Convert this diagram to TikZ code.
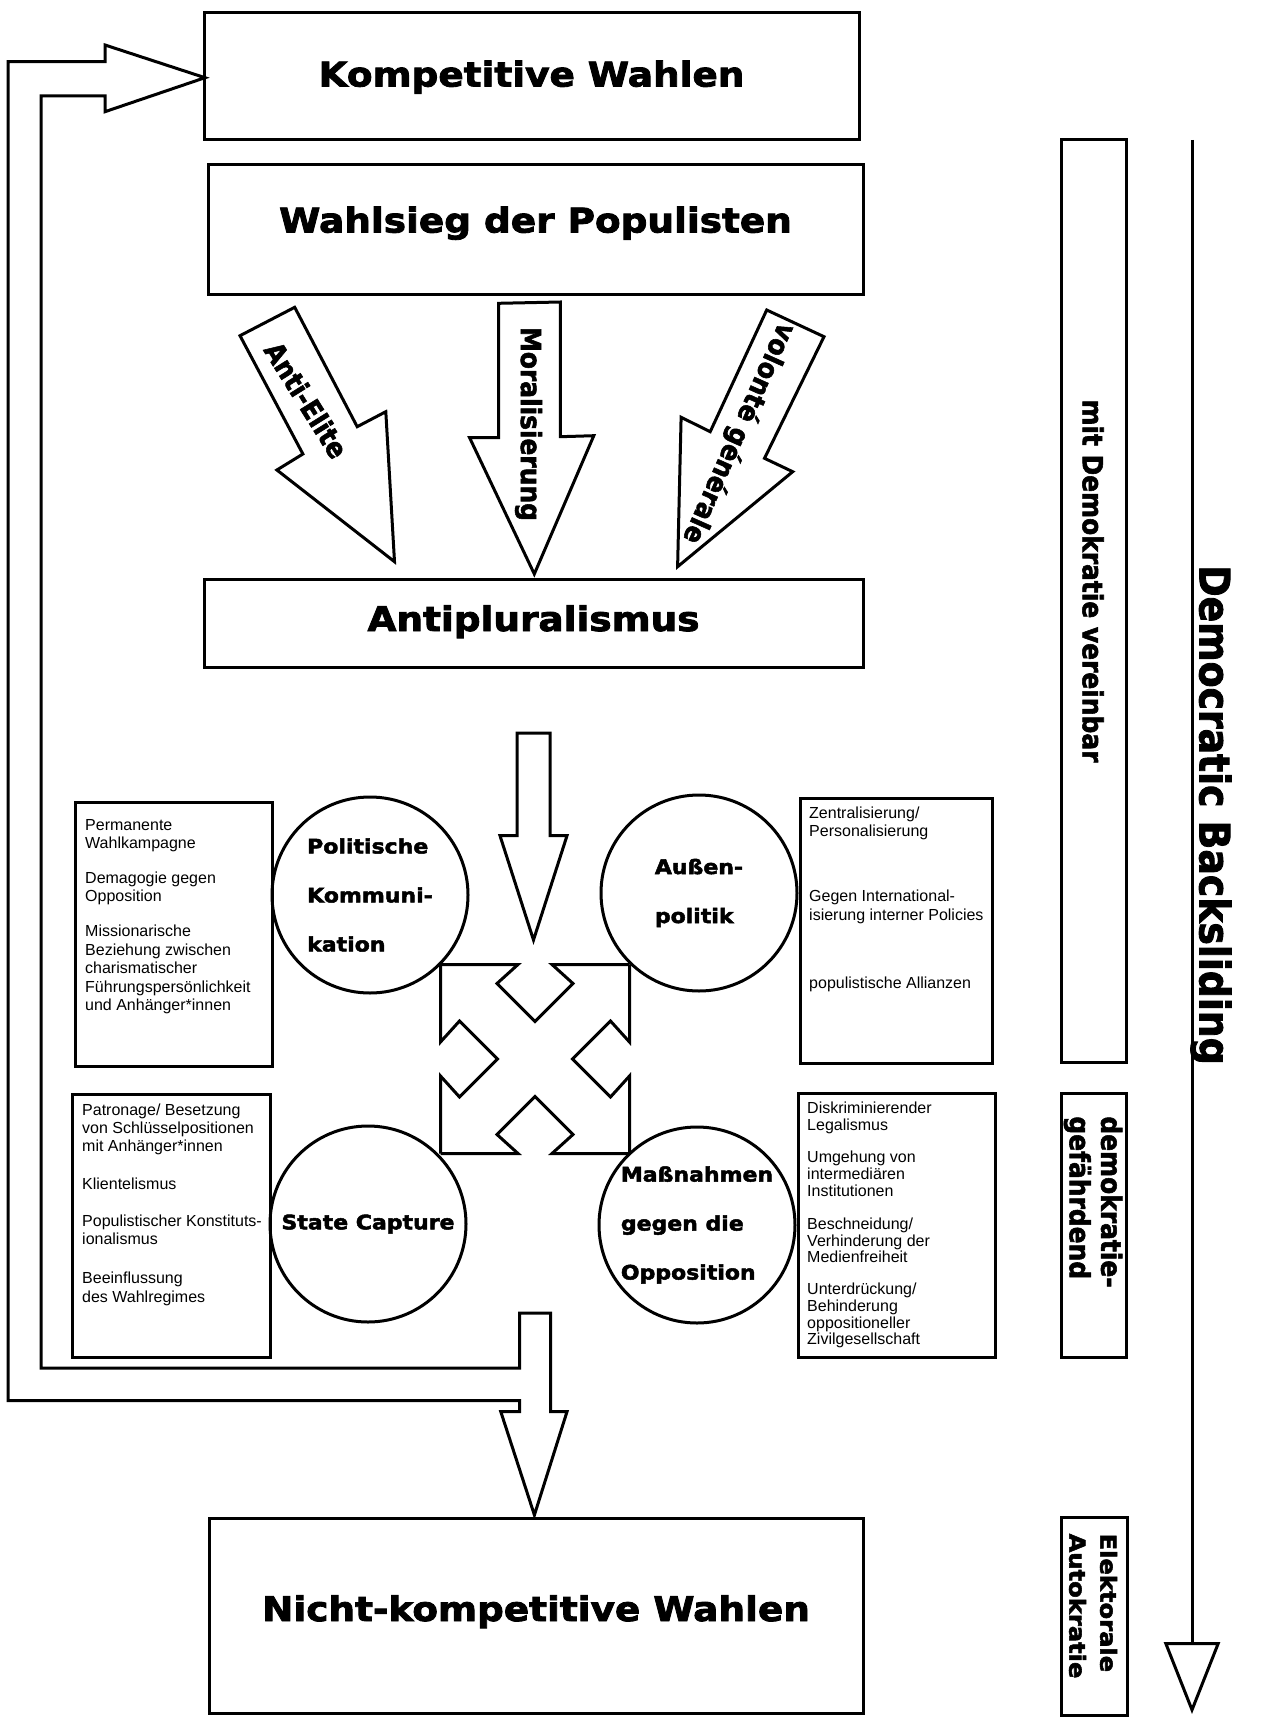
\documentclass[tikz,border=0pt]{standalone}
\usepackage{fontspec}
\setmainfont{Liberation Sans}
\newfontfamily\heavyfont{DejaVu Sans}[FakeStretch=1.1, FakeBold=2.5]
\newfontfamily\condfont{DejaVu Sans Condensed}[FakeBold=2]
\usetikzlibrary{arrows.meta}

\tikzset{
  outline/.style={draw=black, line width=3pt, line join=miter},
  titlebox/.style={outline, rectangle, inner sep=0pt, text height=26pt, font=\heavyfont\bfseries\fontsize{34}{40}\selectfont},
  sidebox/.style={outline, rectangle, inner sep=0pt},
  circ/.style={outline, circle, inner sep=0pt, minimum size=196pt, align=left, font=\heavyfont\bfseries\fontsize{20}{49}\selectfont},
  listtext/.style={anchor=north west, inner sep=0pt, align=left, font=\fontsize{16}{18.5}\selectfont},
  arrowtext/.style={inner sep=0pt, font=\condfont\bfseries\fontsize{27.7}{32}\selectfont},
  sidetext/.style={inner sep=0pt, rotate=-90, align=left, font=\condfont\bfseries\fontsize{27.7}{31.5}\selectfont},
  scalearrow/.style={outline, -{Triangle[open, length=72pt, width=56pt]}},
}

\begin{document}
\begin{tikzpicture}[x=1pt, y=-1pt]
\useasboundingbox (0,0) rectangle (1281,1728);

% main boxes
\node[titlebox, text depth=6pt, minimum width=655pt, minimum height=127pt] (komp) at (531.5,76.5) {Kompetitive Wahlen};
\node[titlebox, text depth=20pt, minimum width=655pt, minimum height=129pt] (wahlsieg) at (535.5,229.5) {Wahlsieg der Populisten};
\node[titlebox, text depth=10pt, minimum width=659pt, minimum height=88pt] (antipl) at (533.5,623) {Antipluralismus};
\node[titlebox, text depth=15pt, minimum width=654pt, minimum height=195pt] (nichtkomp) at (536,1615.5) {Nicht-kompetitive Wahlen};

% block arrows into Antipluralismus
\draw[outline] (240,335.7) -- (294.7,307.3) -- (357.2,426.7) -- (385.8,411.7) -- (394.5,561.7) -- (276.9,470) -- (302.9,454) -- cycle;
\draw[outline] (498.7,303.3) -- (560.4,302) -- (560.4,436.7) -- (593.8,435.7) -- (534.3,574) -- (469.6,437.7) -- (498.7,437.7) -- cycle;
\draw[outline] (766.7,310) -- (824,336.7) -- (764.5,458.3) -- (792.7,471.7) -- (677.6,566.7) -- (681.1,417.3) -- (710.2,431.7) -- cycle;
\node[arrowtext, rotate=-58] (antielite) at (306.4,400) {Anti-Elite};
\node[arrowtext, rotate=-90] (moral) at (528.5,424) {Moralisierung};
\node[arrowtext, rotate=-114] (volonte) at (738.4,433.3) {volonté générale};

% arrow down to the centre
\draw[outline] (517,733) -- (550,733) -- (550,835.7) -- (567,835.7) -- (533.5,940) -- (500,835.7) -- (517,835.7) -- cycle;

% centre cross
\begin{scope}[shift={(535,1059)}]
\foreach \r in {0,90,180,270}
  \draw[outline, line cap=square, rotate=\r] (-94.5,-94.5) -- (-17,-94.5) -- (-38,-75.5) -- (0,-37.5) -- (38,-75.5) -- (17,-94.5) -- (94.5,-94.5);
\end{scope}

% fields
\node[circ] (polkom) at (370,895) {Politische\\Kommuni-\\kation};
\node[circ] (aussen) at (699,893) {Außen-\\politik};
\node[circ] (capture) at (368,1224) {State Capture};
\node[circ] (massn) at (697,1225) {Maßnahmen\\gegen die\\Opposition};

% lists
\node[sidebox, minimum width=197pt, minimum height=264pt] (kommbox) at (173.5,934) {};
\node[listtext] (kommtext) at (85,819) {Permanente\\Wahlkampagne\\[16.2pt]Demagogie gegen\\Opposition\\[16.2pt]Missionarische\\Beziehung zwischen\\charismatischer\\Führungspersönlichkeit\\und Anhänger*innen};
\node[sidebox, minimum width=192pt, minimum height=265pt] (aussenbox) at (896,930.5) {};
\node[listtext, font=\fontsize{16}{18.4}\selectfont] (aussentext) at (809,806.6) {Zentralisierung/\\Personalisierung\\[46.6pt]Gegen International-\\isierung interner Policies\\[50pt]populistische Allianzen};
\node[sidebox, minimum width=198pt, minimum height=263pt] (capturebox) at (171,1225.5) {};
\node[listtext, font=\fontsize{16}{18.3}\selectfont] (capturetext) at (82,1103.3) {Patronage/ Besetzung\\von Schlüsselpositionen\\mit Anhänger*innen\\[19.8pt]Klientelismus\\[18.4pt]Populistischer Konstituts-\\ionalismus\\[20.7pt]Beeinflussung\\des Wahlregimes};
\node[sidebox, minimum width=197pt, minimum height=264pt] (massnbox) at (896.5,1225) {};
\node[listtext, font=\fontsize{16}{16.7}\selectfont] (massntext) at (807,1101.6) {Diskriminierender\\Legalismus\\[16pt]Umgehung von\\intermediären\\Institutionen\\[16.6pt]Beschneidung/\\Verhinderung der\\Medienfreiheit\\[15pt]Unterdrückung/\\Behinderung\\oppositioneller\\Zivilgesellschaft};

% loop back and down
\draw[outline] (8,1400.7) -- (8,61.7) -- (105,61.7) -- (105,45) -- (205,77.7) -- (105,111.7) -- (105,96) -- (41,96) -- (41,1368) -- (519.6,1368) -- (519.6,1313) -- (550.7,1313) -- (550.7,1411.7) -- (567,1411.7) -- (534.4,1515) -- (500.8,1411.7) -- (519.6,1411.7) -- (519.6,1400.7) -- cycle;

% scale on the right
\node[sidebox, minimum width=65pt, minimum height=922pt] (vereinbar) at (1093.5,601) {};
\node[sidetext] (vereinbartext) at (1093,581) {mit Demokratie vereinbar};
\node[sidebox, minimum width=65pt, minimum height=264pt] (gefaehrdend) at (1093.5,1225) {};
\node[sidetext] (gefaehrdendtext) at (1093,1202) {demokratie-\\gefährdend};
\node[sidebox, minimum width=66pt, minimum height=198pt] (autokratie) at (1094,1616) {};
\node[sidetext, font=\heavyfont\bfseries\fontsize{22}{31}\selectfont] (autokratietext) at (1093,1606) {Elektorale\\Autokratie};

\coordinate (scaletop) at (1192,140);
\coordinate (scalebot) at (1192,1714);
\draw[scalearrow] (scaletop) -- (scalebot);
\node[inner sep=0pt, rotate=-90, font=\condfont\bfseries\fontsize{42}{42}\selectfont] (backsliding) at (1211,815) {Democratic Backsliding};

\end{tikzpicture}
\end{document}
